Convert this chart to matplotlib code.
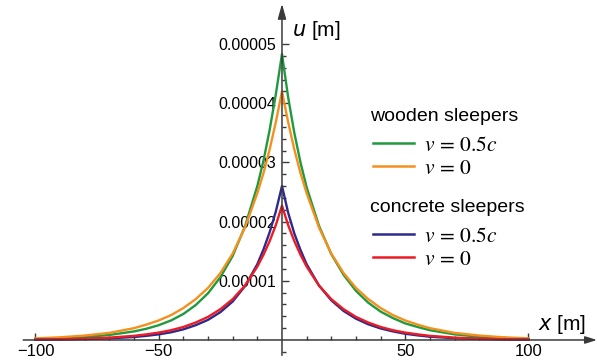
import numpy as np
import matplotlib
matplotlib.use('Agg')
import matplotlib.pyplot as plt
from matplotlib.lines import Line2D
from matplotlib.ticker import FixedLocator

plt.rcParams['font.family'] = ['Liberation Sans', 'DejaVu Sans']
plt.rcParams['mathtext.fontset'] = 'stix'

# sample positions along the track [m]
x = [-100, -90, -80, -70, -60, -55, -50, -45, -40, -35, -30, -25, -20, -15, -10, -7.5, -5, -2.5,
     0, 2.5, 5, 7.5, 10, 15, 20, 25, 30, 35, 40, 45, 50, 55, 60, 70, 80, 90, 100]

# displacements, in 1e-6 m
wood_fast = [0.18, 0.3, 0.5, 0.85, 1.45, 1.9, 2.5, 3.3, 4.4, 5.9, 7.9, 10.6, 14.2, 19.2, 26.0, 30.3, 35.5, 41.5,
             48.3, 41.0, 35.0, 30.0, 25.8, 19.3, 14.5, 11.0, 8.3, 6.3, 4.8, 3.7, 2.8, 2.2, 1.65, 0.95, 0.55, 0.32, 0.2]
wood_static = [0.28, 0.45, 0.75, 1.2, 2.0, 2.6, 3.3, 4.2, 5.4, 6.9, 8.8, 11.3, 14.6, 19.0, 24.8, 28.2, 32.2, 36.8,
               42.0, 36.8, 32.2, 28.2, 24.8, 19.0, 14.6, 11.3, 8.8, 6.9, 5.4, 4.2, 3.3, 2.6, 2.0, 1.2, 0.75, 0.45, 0.28]
conc_fast = [0.05, 0.09, 0.15, 0.28, 0.5, 0.7, 0.95, 1.3, 1.8, 2.5, 3.4, 4.7, 6.5, 9.1, 12.8, 15.3, 18.2, 21.7,
             26.0, 21.5, 18.0, 15.2, 12.8, 9.2, 6.7, 4.9, 3.6, 2.65, 1.95, 1.45, 1.05, 0.78, 0.55, 0.3, 0.17, 0.1, 0.06]
conc_static = [0.08, 0.13, 0.23, 0.4, 0.7, 0.95, 1.25, 1.65, 2.2, 2.95, 3.9, 5.2, 6.9, 9.2, 12.4, 14.4, 16.7, 19.4,
               22.7, 19.4, 16.7, 14.4, 12.4, 9.2, 6.9, 5.2, 3.9, 2.95, 2.2, 1.65, 1.25, 0.95, 0.7, 0.4, 0.23, 0.13, 0.08]

x_major = [-100, -50, 50, 100]
x_labels = ['\u2212100', '\u221250', '50', '100']
x_minor = [-90, -80, -70, -60, -40, -30, -20, -10, 10, 20, 30, 40, 60, 70, 80, 90]
y_major = [1e-5, 2e-5, 3e-5, 4e-5, 5e-5]
y_labels = ['0.00001', '0.00002', '0.00003', '0.00004', '0.00005']

green = '#1f9a3e'
orange = '#f5901f'
blue = '#2d2a8e'
red = '#ec1c24'
axcol = '#3a3a3a'

W, H = 597, 361
fig = plt.figure(figsize=(W / 100, H / 100), dpi=100)
ax = fig.add_axes([0, 0, 1, 1])
ax.set_xlim(-114.4, 127.8)
ax.set_ylim(-3.55e-6, 57.43e-6)

xs = np.array(x)
ax.plot(xs, np.array(wood_fast) * 1e-6, color=green, lw=1.7)
ax.plot(xs, np.array(wood_static) * 1e-6, color=orange, lw=1.7)
ax.plot(xs, np.array(conc_fast) * 1e-6, color=blue, lw=1.7)
ax.plot(xs, np.array(conc_static) * 1e-6, color=red, lw=1.7)

# axes through the origin with arrow heads
for s in ax.spines.values():
    s.set_visible(False)
ax.spines['left'].set_position(('data', 0))
ax.spines['bottom'].set_position(('data', 0))
ax.annotate('', xy=(127.8, 0), xytext=(-105, 0),
            arrowprops=dict(arrowstyle='-|>,head_length=0.7,head_width=0.22', color=axcol, lw=1.1,
                            shrinkA=0, shrinkB=0))
ax.annotate('', xy=(0, 56.8e-6), xytext=(0, -2.6e-6),
            arrowprops=dict(arrowstyle='-|>,head_length=0.9,head_width=0.25', color=axcol, lw=1.1,
                            shrinkA=0, shrinkB=0))

ax.set_xticks(x_major)
ax.set_xticklabels(x_labels)
ax.xaxis.set_minor_locator(FixedLocator(x_minor))
ax.set_yticks(y_major)
ax.set_yticklabels(y_labels)
ax.yaxis.set_minor_locator(FixedLocator([i * 2e-6 for i in range(-1, 25) if i % 5 != 0]))
ax.tick_params(which='major', direction='in', length=5, width=1, color=axcol, pad=3)
ax.tick_params(which='minor', direction='in', length=3, width=1, color=axcol)
ax.tick_params(axis='x', labelsize=12)
ax.tick_params(axis='y', labelsize=11.5, pad=4)
for t in ax.get_yticklabels():
    t.set_bbox(dict(facecolor='white', edgecolor='none', pad=1))

# axis labels (pixel positions, origin top-left)
def fig_xy(px, py):
    return px / W, 1 - py / H

fig.text(*fig_xy(292, 30), r'$\it{u}$ [m]', fontsize=15, va='center', ha='left', math_fontfamily='dejavusans')
fig.text(*fig_xy(538, 325), r'$\it{x}$ [m]', fontsize=15, va='center', ha='left', math_fontfamily='dejavusans')

# legend drawn by hand
groups = [('wooden sleepers', 116, [(green, r'$v\,=\,0.5c$'), (orange, r'$v\,=\,0$')]),
          ('concrete sleepers', 207, [(blue, r'$v\,=\,0.5c$'), (red, r'$v\,=\,0$')])]
for title, ty, rows in groups:
    fig.text(*fig_xy(370, ty), title, fontsize=14, va='center', ha='left')
    for i, (col, lab) in enumerate(rows):
        ry = ty + 27 + 23 * i
        fig.add_artist(Line2D([373 / W, 414 / W], [1 - ry / H, 1 - ry / H], color=col, lw=1.8,
                              transform=fig.transFigure))
        fig.text(*fig_xy(424, ry), lab, fontsize=15.5, va='center_baseline', ha='left')

fig.savefig('out.png', dpi=100)
